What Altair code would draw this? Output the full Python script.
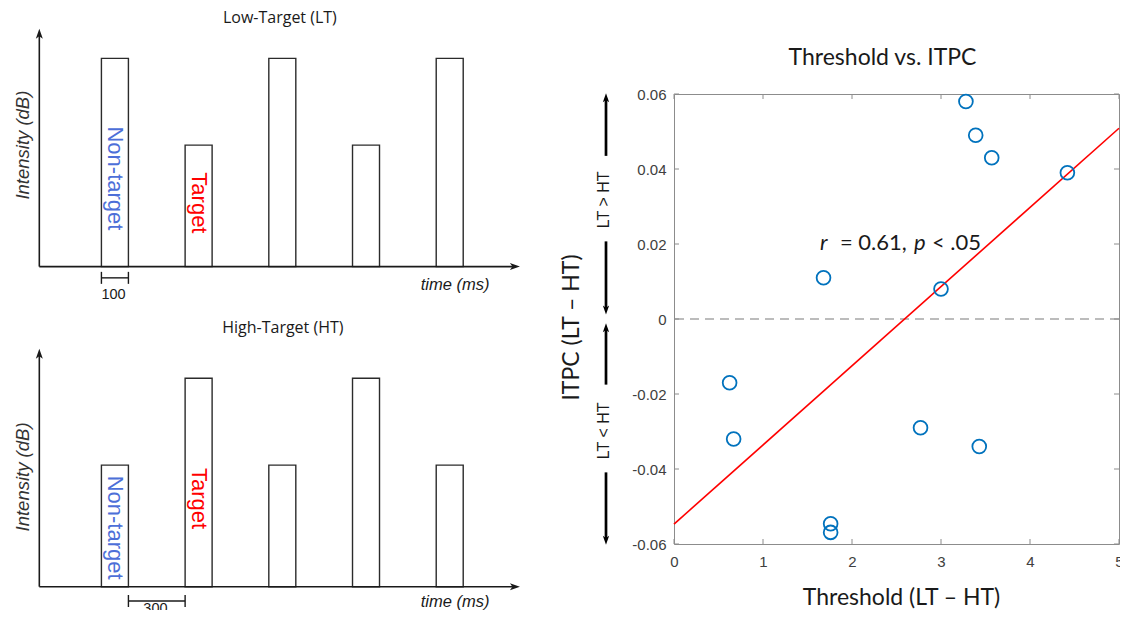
import altair as alt
import pandas as pd

# ---------------- schematic panels (left) ----------------
onsets_ms = [0, 310, 620, 930, 1240]          # tone onsets
tone_ms = 100                                  # tone duration
HIGH_DB, LOW_DB = 60, 35
lt_levels = [HIGH_DB, LOW_DB, HIGH_DB, LOW_DB, HIGH_DB]
ht_levels = [LOW_DB, HIGH_DB, LOW_DB, HIGH_DB, LOW_DB]

# ---------------- scatter (right) ----------------
threshold = [3.28, 3.39, 3.57, 4.42, 1.68, 3.00, 0.625, 0.67, 2.77, 3.43, 1.76, 1.76]
itpc = [0.058, 0.049, 0.043, 0.039, 0.011, 0.008, -0.017, -0.032, -0.029, -0.034, -0.0546, -0.0569]
x_ticks = [0, 1, 2, 3, 4, 5]
y_ticks = [-0.06, -0.04, -0.02, 0, 0.02, 0.04, 0.06]

# direction arrows beside the y axis (ITPC units)
arrow_tip = [0.0602, 0.0012, -0.0011, -0.0602]
arrow_tail = [0.0435, 0.0207, -0.0175, -0.0409]
arrow_dir = [1, -1, 1, -1]
dir_labels = ["LT > HT", "LT < HT"]
dir_label_y = [0.0318, -0.0298]

# ---------------- styling ----------------
INK = "#1a1a1a"
UP_PATH = "M0,0 L0.7,2 L0,1.5 L-0.7,2 Z"
DOWN_PATH = "M0,0 L0.7,-2 L0,-1.5 L-0.7,-2 Z"
RIGHT_PATH = "M0,0 L-2,-0.7 L-1.5,0 L-2,0.7 Z"

T_DOMAIN = [-346, 1617]
AXIS_T0 = -230
X_TIP = 1550
Y_TIP = 68.5


def txt(df, **kw):
    return alt.Chart(df).mark_text(**kw).encode(x="t:Q", y="db:Q", text="label:N")


def schematic(levels, ydom, height, s):
    xsc = alt.Scale(domain=T_DOMAIN, nice=False, zero=False)
    ysc = alt.Scale(domain=ydom, nice=False, zero=False)
    bars_df = pd.DataFrame({"t": onsets_ms,
                            "t1": [o + tone_ms for o in onsets_ms],
                            "db": levels})
    bars = alt.Chart(bars_df).transform_calculate(base="0").mark_rect(
        fill="white", stroke="#2b2b2b", strokeWidth=1.4
    ).encode(
        x=alt.X("t:Q", scale=xsc, axis=None), x2="t1:Q",
        y=alt.Y("base:Q", scale=ysc, axis=None), y2="db:Q",
    )
    axes_df = pd.DataFrame({"t": [AXIS_T0, AXIS_T0], "t1": [AXIS_T0, X_TIP - 26],
                            "db": [0, 0], "db1": [Y_TIP - 2.0, 0]})
    axes = alt.Chart(axes_df).mark_rule(color=INK, strokeWidth=1.6).encode(
        x="t:Q", x2="t1:Q", y="db:Q", y2="db1:Q")
    head_up = alt.Chart(pd.DataFrame({"t": [AXIS_T0], "db": [Y_TIP]})).mark_point(
        shape=UP_PATH, size=100, filled=True, color=INK, opacity=1, strokeWidth=0
    ).encode(x="t:Q", y="db:Q")
    head_right = alt.Chart(pd.DataFrame({"t": [X_TIP], "db": [0]})).mark_point(
        shape=RIGHT_PATH, size=100, filled=True, color=INK, opacity=1, strokeWidth=0
    ).encode(x="t:Q", y="db:Q")

    sb_df = pd.DataFrame({"t": [s["sb"][0]], "t1": [s["sb"][1]], "db": [s["sb_db"]]})
    sb = alt.Chart(sb_df).mark_rule(color=INK, strokeWidth=1.4).encode(
        x="t:Q", x2="t1:Q", y="db:Q")
    sb_ticks = alt.Chart(pd.DataFrame({"t": list(s["sb"]), "db": [s["sb_db"]] * 2})).mark_tick(
        orient="vertical", size=12, thickness=1.4, color=INK, opacity=1
    ).encode(x="t:Q", y="db:Q")

    title = txt(pd.DataFrame({"t": [s["title_t"]], "db": [s["title_db"]], "label": [s["title"]]}),
                font="Open Sans", fontSize=16, color=INK, align="center", baseline="middle")
    inten = txt(pd.DataFrame({"t": [-290], "db": [s["int_db"]], "label": ["Intensity (dB)"]}),
                font="Liberation Sans", fontStyle="italic", fontSize=18.5, color="#333333",
                angle=270, align="center", baseline="middle")
    nont = txt(pd.DataFrame({"t": [onsets_ms[0] + tone_ms / 2], "db": [s["nt_db"]], "label": ["Non-target"]}),
               font="Liberation Sans", fontSize=22, color="#4d6fd8",
               angle=90, align="center", baseline="middle")
    targ = txt(pd.DataFrame({"t": [onsets_ms[1] + tone_ms / 2], "db": [s["tg_db"]], "label": ["Target"]}),
               font="Liberation Sans", fontSize=22, color="#ff0000",
               angle=90, align="center", baseline="middle")
    sbl = txt(pd.DataFrame({"t": [s["sbl_t"]], "db": [s["sbl_db"]], "label": [s["sbl"]]}),
              font="Liberation Sans", fontSize=14.5, color=INK, align="center", baseline="middle")
    tms = txt(pd.DataFrame({"t": [1310], "db": [s["time_db"]], "label": ["time (ms)"]}),
              font="Liberation Sans", fontStyle="italic", fontSize=16.5, color=INK,
              align="center", baseline="middle")

    return alt.layer(bars, axes, head_up, head_right, sb, sb_ticks,
                     title, inten, nont, targ, sbl, tms).properties(width=530, height=height)


lt = schematic(lt_levels, [-12.5, 74.5], 302, dict(
    title="Low-Target (LT)", title_t=661, title_db=71.5, int_db=35.0,
    nt_db=25.4, tg_db=18.35, sb=(0, 100), sb_db=-3.24,
    sbl="100", sbl_t=45, sbl_db=-8.14, time_db=-5.26))
ht = schematic(ht_levels, [-7.0, 79.67], 301, dict(
    title="High-Target (HT)", title_t=672, title_db=74.4, int_db=31.6,
    nt_db=17.0, tg_db=25.4, sb=(100, 310), sb_db=-4.12,
    sbl="300", sbl_t=200, sbl_db=-6.42, time_db=-4.32))

# ---------------- scatter ----------------
FRAME = "#8c8c8c"
W, H = 445, 450
xs = alt.Scale(domain=[0, 5], nice=False, zero=False)
ys = alt.Scale(domain=[-0.06, 0.06], nice=False, zero=False)

pts_df = pd.DataFrame({"threshold": threshold, "itpc": itpc})

x_enc = alt.X("threshold:Q", scale=xs, axis=alt.Axis(
    values=x_ticks, format="d", title="Threshold (LT – HT)", grid=False, domain=False,
    ticks=False, tickSize=0, labelFlush=False, labelFont="Liberation Sans", labelFontSize=15,
    labelColor="#404040", labelPadding=10, titleFont="Lato", titleFontSize=23,
    titleFontWeight="normal", titleColor=INK, titleX=227, titleY=53,
    titleAlign="center", titleBaseline="middle"))
y_enc = alt.Y("itpc:Q", scale=ys, axis=alt.Axis(
    values=y_ticks, title="ITPC (LT – HT)", grid=False, domain=False,
    ticks=False, tickSize=0, labelFlush=False, labelFont="Liberation Sans", labelFontSize=15,
    labelColor="#404040", labelPadding=8,
    labelExpr="datum.value == 0 ? '0' : (datum.value < 0 ? '-' : '') + format(abs(datum.value), '.2f')",
    titleFont="Lato", titleFontSize=23, titleFontWeight="normal", titleColor=INK,
    titleX=-103, titleY=233, titleAngle=270, titleAlign="center", titleBaseline="middle"))

points = alt.Chart(pts_df).mark_point(
    shape="circle", filled=False, size=190, strokeWidth=1.8, color="#0072BD", opacity=1
).encode(x=x_enc, y=y_enc)

reg = alt.Chart(pts_df).transform_regression(
    "threshold", "itpc", extent=[0, 5]
).mark_line(color="#ff0000", strokeWidth=1.6).encode(x="threshold:Q", y="itpc:Q")

zero = alt.Chart(pd.DataFrame({"itpc": [0]})).mark_rule(
    color="#a6a6a6", strokeWidth=1.5, strokeDash=[9, 6]).encode(y="itpc:Q")

xt = pd.DataFrame({"threshold": x_ticks})
yt = pd.DataFrame({"itpc": y_ticks})
tick_b = alt.Chart(xt).mark_rule(color=FRAME, strokeWidth=1).encode(
    x="threshold:Q", y=alt.value(H), y2=alt.value(H - 5))
tick_t = alt.Chart(xt).mark_rule(color=FRAME, strokeWidth=1).encode(
    x="threshold:Q", y=alt.value(0), y2=alt.value(5))
tick_l = alt.Chart(yt).mark_rule(color=FRAME, strokeWidth=1).encode(
    y="itpc:Q", x=alt.value(0), x2=alt.value(5))
tick_r = alt.Chart(yt).mark_rule(color=FRAME, strokeWidth=1).encode(
    y="itpc:Q", x=alt.value(W), x2=alt.value(W - 5))

ANN_X, ANN_Y = 1.64, 0.0203
ann_df = pd.DataFrame({"threshold": [ANN_X], "itpc": [ANN_Y]})
ann_parts = [("r", 0, "italic"), ("= 0.61,", 20, "normal"), ("p", 94, "italic"), ("< .05", 112, "normal")]
ann_layers = [
    alt.Chart(ann_df).mark_text(text=t, dx=dx, align="left", baseline="middle", font="Lato",
                                fontSize=22, fontStyle=st, color=INK).encode(x="threshold:Q", y="itpc:Q")
    for t, dx, st in ann_parts
]

arr_df = pd.DataFrame({"itpc": arrow_tail, "tip": arrow_tip, "dir": arrow_dir})
ARR_X = -68
arr_lines = alt.Chart(arr_df).transform_calculate(
    neck="datum.tip - datum.dir * 0.0016"
).mark_rule(color="black", strokeWidth=2.7).encode(
    x=alt.value(ARR_X), y="itpc:Q", y2="neck:Q")
head_up = alt.Chart(arr_df).transform_filter("datum.dir > 0").transform_calculate(
    itpc="datum.tip").mark_point(shape=UP_PATH, size=81, filled=True, color="black",
                                 opacity=1, strokeWidth=0).encode(x=alt.value(ARR_X), y="itpc:Q")
head_dn = alt.Chart(arr_df).transform_filter("datum.dir < 0").transform_calculate(
    itpc="datum.tip").mark_point(shape=DOWN_PATH, size=81, filled=True, color="black",
                                 opacity=1, strokeWidth=0).encode(x=alt.value(ARR_X), y="itpc:Q")
dir_text = alt.Chart(pd.DataFrame({"itpc": dir_label_y, "label": dir_labels})).mark_text(
    font="Liberation Sans", fontSize=16, color=INK, angle=270, align="center", baseline="middle"
).encode(x=alt.value(ARR_X - 2), y="itpc:Q", text="label:N")

scatter = alt.layer(
    zero, reg, points, tick_b, tick_t, tick_l, tick_r, *ann_layers,
    arr_lines, head_up, head_dn, dir_text
).properties(
    width=W, height=H,
    title=alt.TitleParams(text="Threshold vs. ITPC", font="Lato", fontSize=23, fontWeight="normal",
                          color=INK, anchor="middle", frame="group", offset=29,
                          baseline="alphabetic", dx=-14, dy=30),
    view=alt.ViewBackground(stroke=FRAME, strokeWidth=1),
)

# invisible block above the scatter: reserves the title band and fixes the column's left extent
spacer = alt.Chart(pd.DataFrame({"v": [0]})).mark_rect(opacity=0).encode(
    x=alt.value(-130), x2=alt.value(0), y=alt.value(0), y2=alt.value(10)
).properties(width=W, height=86)

left = alt.vconcat(lt, ht, spacing=0, bounds="flush")
right = alt.vconcat(spacer, scatter, spacing=0, bounds="flush")
# the reference figure is cropped at its right and bottom edges: negative padding crops the same way
chart = alt.hconcat(left, right, spacing=6, bounds="full").properties(
    padding={"left": 0, "top": 0, "right": -4, "bottom": -6}, background="white"
).configure_view(stroke=None)

chart.save("out.html", embed_options={"renderer": "svg", "actions": False})
